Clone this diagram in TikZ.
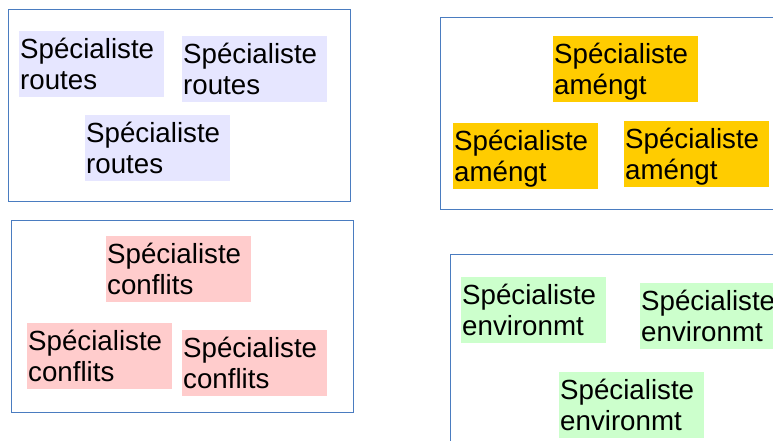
\documentclass[tikz,border=0pt]{standalone}
\usepackage{fontspec}
\setmainfont{Liberation Sans}
\definecolor{frameblue}{HTML}{4A7CC0}
\definecolor{routesfill}{HTML}{E6E6FF}
\definecolor{amenfill}{HTML}{FFCC00}
\definecolor{conffill}{HTML}{FFCCCC}
\definecolor{envfill}{HTML}{CCFFCC}
\tikzset{
  groupframe/.style={draw=frameblue, line width=1pt},
  spec/.style={anchor=north west, inner xsep=1pt, inner ysep=0pt,
    text width=143pt, align=left, text height=27pt, text depth=38.5pt,
    font=\fontsize{27.7}{31.5}\selectfont},
  routes/.style={spec, fill=routesfill},
  amen/.style={spec, fill=amenfill},
  conf/.style={spec, fill=conffill},
  env/.style={spec, fill=envfill}
}
\begin{document}
\begin{tikzpicture}[x=1pt,y=-1pt]
\clip (0,0) rectangle (773,441);
\fill[white] (0,0) rectangle (773,441);
% frames
\draw[groupframe] (8.5,10) rectangle (350.5,201);
\draw[groupframe] (440,17.5) rectangle (790,209.5);
\draw[groupframe] (11,220.5) rectangle (353,412);
\draw[groupframe] (450.5,254.5) rectangle (790,460);
% routes
\node[routes] (r1) at (19,31) {Spécialiste\\routes};
\node[routes] (r2) at (182,36) {Spécialiste\\routes};
\node[routes] (r3) at (85,115) {Spécialiste\\routes};
% amenagement
\node[amen] (a1) at (553,36) {Spécialiste\\améngt};
\node[amen] (a2) at (453,123) {Spécialiste\\améngt};
\node[amen] (a3) at (624,121) {Spécialiste\\améngt};
% conflits
\node[conf] (c1) at (106,236) {Spécialiste\\conflits};
\node[conf] (c2) at (27,323) {Spécialiste\\conflits};
\node[conf] (c3) at (182,330) {Spécialiste\\conflits};
% environnement
\node[env] (e1) at (461,277) {Spécialiste\\environmt};
\node[env] (e2) at (640,283) {Spécialiste\\environmt};
\node[env] (e3) at (559,372) {Spécialiste\\environmt};
\end{tikzpicture}
\end{document}
